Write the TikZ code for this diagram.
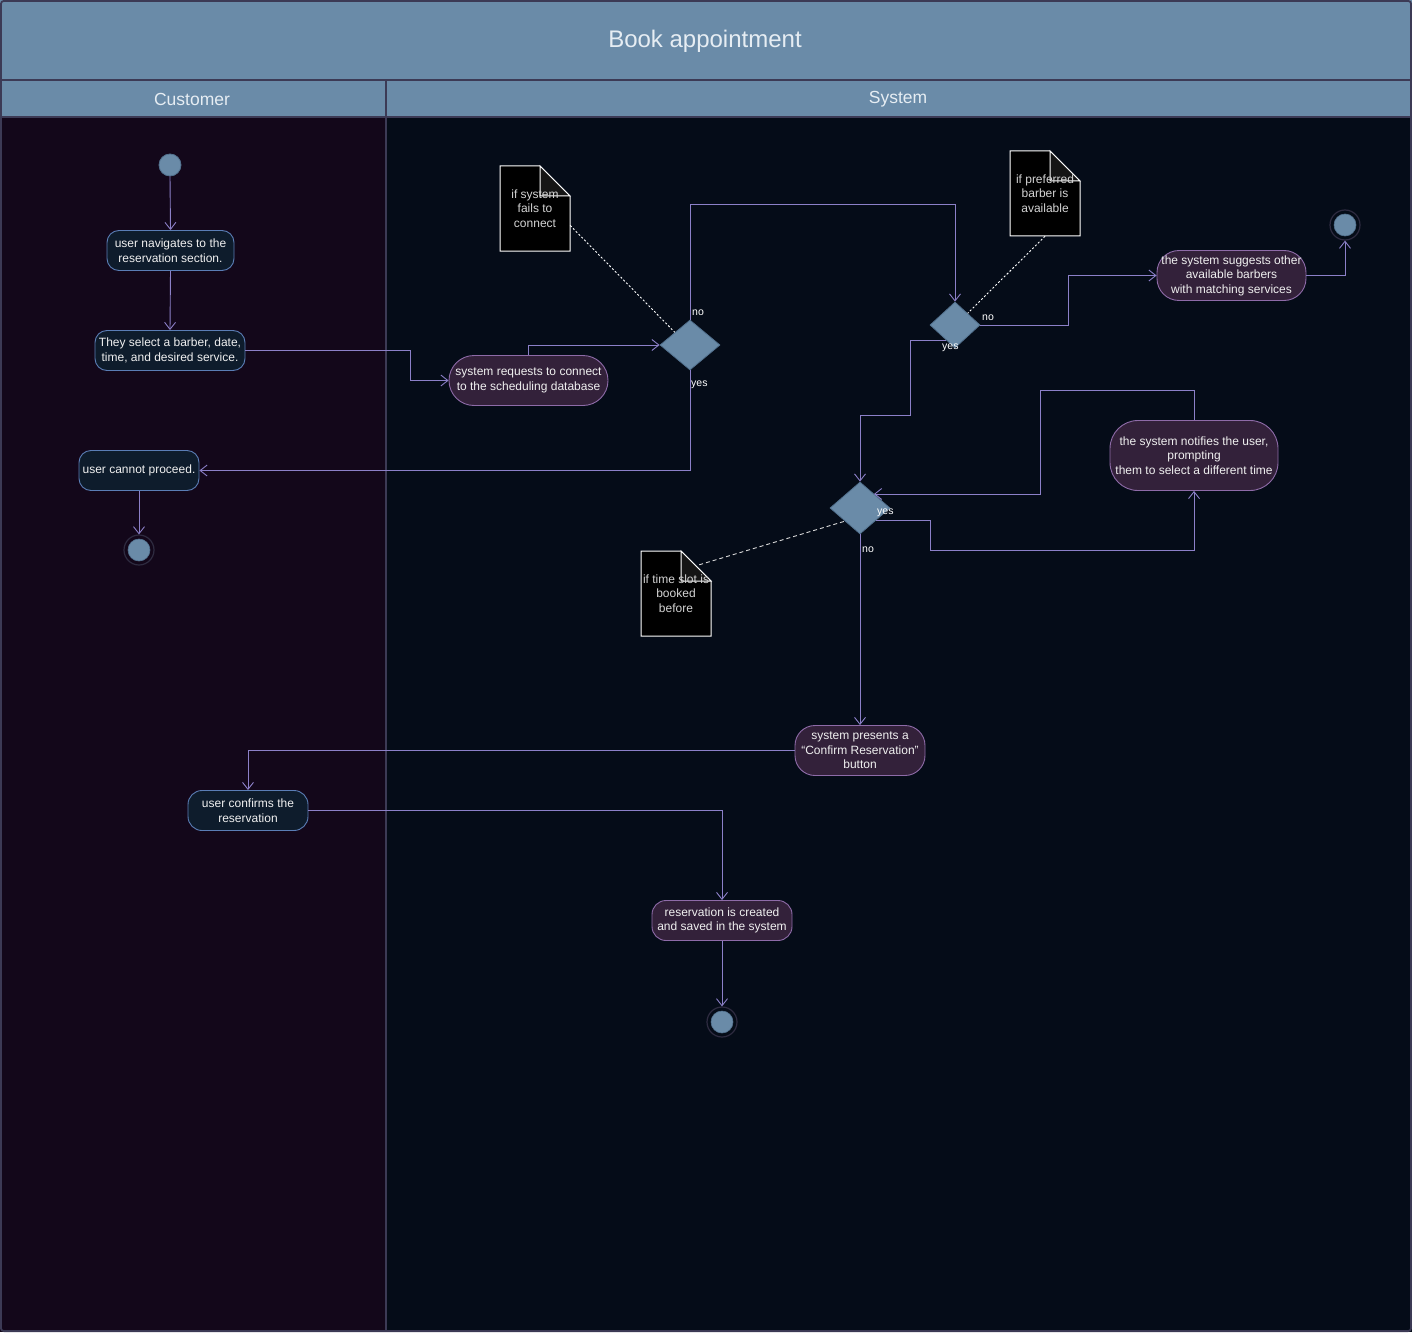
\documentclass[tikz,border=0pt]{standalone}
\usepackage{fontspec}
\setmainfont{Liberation Sans}
\usetikzlibrary{arrows.meta,shapes.geometric,calc}

\definecolor{hdr}{HTML}{6A8BA8}
\definecolor{frame}{HTML}{3C3A55}
\definecolor{custbg}{HTML}{13071A}
\definecolor{sysbg}{HTML}{050C18}
\definecolor{bluefill}{HTML}{0E1C2C}
\definecolor{bluebd}{HTML}{5A7DB5}
\definecolor{purfill}{HTML}{33213A}
\definecolor{purbd}{HTML}{8E6BA8}
\definecolor{edge}{HTML}{8C80C8}
\definecolor{txt}{HTML}{F0F0F0}
\definecolor{hdrtxt}{HTML}{E6EDF3}
\definecolor{notetxt}{HTML}{D4D4D4}
\definecolor{foldgrey}{HTML}{151515}
\definecolor{ring}{HTML}{2E2B40}
\definecolor{dmdbd}{HTML}{52718E}

\newcommand{\nodefont}{\fontsize{12}{14.5}\selectfont}

% sticky note with a folded top-right corner: name, x, y (centre), text
\newcommand{\drawnote}[4]{%
  \coordinate (#1c) at (#2,#3);
  \draw[white, line width=1pt, fill=black]
    ($(#1c)+(-35,-42.5)$) -- ++(40,0) -- ++(30,30) -- ($(#1c)+(35,42.5)$) -- ++(-70,0) -- cycle;
  \draw[white, line width=1pt, fill=foldgrey]
    ($(#1c)+(5,-42.5)$) -- ++(0,30) -- ++(30,0) -- cycle;
  \node[notebox] (#1) at (#1c) {#4};
}

\begin{document}
\begin{tikzpicture}[x=1pt,y=-1pt,
  flow/.style={draw=edge, line width=0.9pt,
    -{Straight Barb[length=7pt,width=11pt,line width=0.9pt]}},
  actblue/.style={rectangle, draw=bluebd, fill=bluefill, line width=0.9pt,
    text=txt, align=center, font=\nodefont, inner sep=0pt},
  actpur/.style={rectangle, draw=purbd, fill=purfill, line width=0.9pt,
    text=txt, align=center, font=\nodefont, inner sep=0pt},
  dmd/.style={diamond, fill=hdr, draw=dmdbd, line width=0.8pt, inner sep=0pt},
  notebox/.style={minimum width=70pt, minimum height=85pt, inner sep=0pt,
    text=notetxt, align=center, font=\nodefont},
  lbl/.style={text=white, font=\fontsize{10.5}{12}\selectfont, inner sep=0pt, anchor=west},
  startdot/.style={circle, fill=hdr, draw=dmdbd, line width=0.8pt, minimum size=22pt, inner sep=0pt},
  endring/.style={circle, fill=#1, draw=ring, line width=1.2pt, minimum size=30pt, inner sep=0pt},
  enddot/.style={circle, fill=hdr, draw=dmdbd, line width=0.6pt, minimum size=22pt, inner sep=0pt},
]
\useasboundingbox (0,0) rectangle (1412,1332);

% lanes and headers
\fill[custbg] (0,117) rectangle (386,1332);
\fill[sysbg] (386,117) rectangle (1412,1332);
\fill[hdr] (0,0) rectangle (1412,117);
\draw[frame, line width=1.5pt] (0,80) -- (1412,80);
\draw[frame, line width=1.5pt] (0,117) -- (1412,117);
\draw[frame, line width=1.5pt] (386,80) -- (386,1332);
\draw[frame, line width=1.8pt, rounded corners=3pt] (0.9,0.9) rectangle (1411.1,1331.1);
\node[text=hdrtxt, font=\fontsize{24}{28}\selectfont] (title) at (705,41.5) {Book appointment};
\node[text=hdrtxt, font=\fontsize{17.5}{20}\selectfont] (lanecust) at (192,99.5) {Customer};
\node[text=hdrtxt, font=\fontsize{17.5}{20}\selectfont] (lanesys) at (898,99.5) {System};

% notes
\drawnote{note1}{535}{208.5}{if system\\fails to\\connect}
\drawnote{note2}{1045}{193.5}{if preferred\\barber is\\available}
\drawnote{note3}{676}{593.5}{if time slot is\\booked\\before}

% activities
\node[startdot] (start1) at (170,165) {};
\node[actblue, minimum width=127pt, minimum height=40pt, rounded corners=12pt] (n1) at (170.5,250.5)
  {user navigates to the\\reservation section.};
\node[actblue, minimum width=150pt, minimum height=40pt, rounded corners=12pt] (n2) at (170,350.5)
  {They select a barber, date,\\time, and desired service.};
\node[actpur, minimum width=159pt, minimum height=50pt, rounded corners=25pt] (n3) at (528.5,380.5)
  {system requests to connect\\to the scheduling database};
\node[dmd, minimum width=60pt, minimum height=50pt] (d1) at (690,345) {};
\node[dmd, minimum width=50pt, minimum height=46pt] (d2) at (955,325) {};
\node[actpur, minimum width=149pt, minimum height=50pt, rounded corners=22pt] (n4) at (1231.5,275.5)
  {the system suggests other\\available barbers\\with matching services};
\node[endring=sysbg] (end1) at (1345,225) {};
\node[enddot] at (end1) (end1dot) {};
\node[actblue, minimum width=120pt, minimum height=40pt, rounded corners=12pt] (n5) at (139,470.5)
  {user cannot proceed.};
\node[endring=custbg] (end2) at (139,550) {};
\node[enddot] at (end2) (end2dot) {};
\node[dmd, minimum width=60pt, minimum height=52pt] (d3) at (860,508) {};
\node[actpur, minimum width=168pt, minimum height=70pt, rounded corners=28pt] (n6) at (1194,455.5)
  {the system notifies the user,\\prompting\\them to select a different time};
\node[actpur, minimum width=130pt, minimum height=50pt, rounded corners=20pt] (n7) at (860,750.5)
  {system presents a\\“Confirm Reservation”\\button};
\node[actblue, minimum width=120pt, minimum height=40pt, rounded corners=14pt] (n8) at (248,810.5)
  {user confirms the\\reservation};
\node[actpur, minimum width=140pt, minimum height=40pt, rounded corners=14pt] (n9) at (722,920.5)
  {reservation is created\\and saved in the system};
\node[endring=sysbg] (end3) at (722,1022) {};
\node[enddot] at (end3) (end3dot) {};

% points where flows leave or enter the diamonds off their corners
\coordinate (d2yes) at ($(d2.center)+(-9,15)$);
\coordinate (d3yes) at ($(d3.center)+(16,12)$);
\coordinate (d3in) at ($(d3.center)+(14,-14)$);

% control flows
\draw[flow] (start1.south) -- (n1.north);
\draw[flow] (n1.south) -- (n2.north);
\draw[flow] (n2.east) -- ++(165,0) |- (n3.west);
\draw[flow] (n3.north) |- (d1.west);
\draw[flow] (d1.north) -- ++(0,-115) -| (d2.north);
\draw[flow] (d1.south) |- (n5.east);
\draw[flow] (d2.east) -- ++(88,0) |- (n4.west);
\draw[flow] (n4.east) -| (end1.south);
\draw[flow] (d2yes) -| (910,415) -| (d3.north);
\draw[flow] (n5.south) -- (end2.north);
\draw[flow] (d3yes) -| (930,550) -| (n6.south);
\draw[flow] (n6.north) -- ++(0,-30) -| (1040,494) -- (d3in);
\draw[flow] (d3.south) -- (n7.north);
\draw[flow] (n7.west) -| (n8.north);
\draw[flow] (n8.east) -| (n9.north);
\draw[flow] (n9.south) -- (end3.north);

% note anchors
\draw[white, line width=0.9pt, dash pattern=on 2pt off 2pt] ($(note1.east)+(0,17)$) -- (d1.north west);
\draw[white, line width=0.9pt, dash pattern=on 2pt off 2pt] (note2.south) -- (d2.north east);
\draw[white!85!black, line width=0.9pt, dash pattern=on 4pt off 3pt] ($(note3.north east)+(-12,14)$) -- (d3.south west);

% guard labels
\node[lbl] (l1no) at (692,312.5) {no};
\node[lbl] (l1yes) at (691,384.5) {yes};
\node[lbl] (l2no) at (982,317.5) {no};
\node[lbl] (l2yes) at (942,347.5) {yes};
\node[lbl] (l3yes) at (877,512.5) {yes};
\node[lbl] (l3no) at (862,549.5) {no};
\end{tikzpicture}
\end{document}
